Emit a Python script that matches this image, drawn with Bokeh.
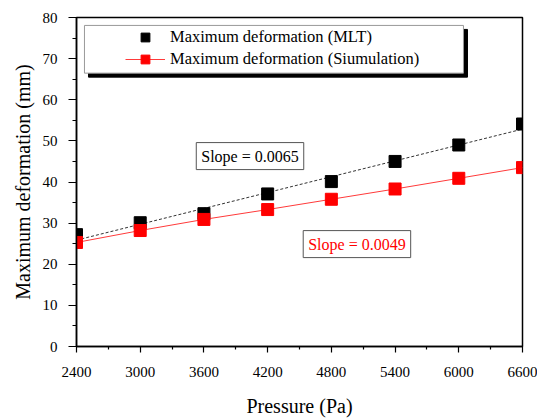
import numpy as np
from bokeh.plotting import figure
from bokeh.models import Range1d, FixedTicker, Legend, LegendItem, Label, BoxAnnotation
from bokeh.embed import file_html
from bokeh.resources import INLINE

# ---- data ----
pressure = [2400, 3000, 3600, 4200, 4800, 5400, 6000, 6600]
mlt = [27.2, 30.1, 32.3, 37.1, 40.1, 45.0, 49.0, 54.1]
sim = [25.3, 28.2, 30.9, 33.3, 35.8, 38.3, 40.9, 43.5]
x_ticks = [2400, 3000, 3600, 4200, 4800, 5400, 6000, 6600]
y_ticks = [0, 10, 20, 30, 40, 50, 60, 70, 80]
mlt_label = "Maximum deformation (MLT)"
sim_label = "Maximum deformation (Siumulation)"
slope_mlt_text = "Slope = 0.0065"
slope_sim_text = "Slope = 0.0049"
x_title = "Pressure (Pa)"
y_title = "Maximum deformation (mm)"

FONT = "Liberation Serif"

p = figure(width=537, height=419,
           x_range=Range1d(x_ticks[0], x_ticks[-1]),
           y_range=Range1d(y_ticks[0], y_ticks[-1]),
           output_backend="svg", toolbar_location=None,
           min_border_left=76, min_border_right=15,
           min_border_top=17, min_border_bottom=71)

p.xgrid.visible = False
p.ygrid.visible = False
p.outline_line_color = "black"
p.outline_line_width = 1.5
p.outline_line_alpha = 1.0
p.background_fill_color = "white"
p.border_fill_color = "white"

# linear fit for MLT series
coef = np.polyfit(pressure, mlt, 1)
fit_x = [pressure[0], pressure[-1]]
fit_y = list(np.polyval(coef, fit_x))

p.line(fit_x, fit_y, line_color="#333333", line_width=1, line_dash="3 2")
r_mlt = p.scatter(pressure, mlt, marker="square", size=12,
                  fill_color="black", line_color="black")
r_sim_line = p.line(pressure, sim, line_color="#ff3a3a", line_width=1)
r_sim = p.scatter(pressure, sim, marker="square", size=12,
                  fill_color="#ff0000", line_color="#ff0000")

# axes
x_minor = [(a + b) / 2 for a, b in zip(x_ticks[:-1], x_ticks[1:])]
y_minor = [(a + b) / 2 for a, b in zip(y_ticks[:-1], y_ticks[1:])]
p.xaxis.ticker = FixedTicker(ticks=x_ticks, minor_ticks=x_minor)
p.yaxis.ticker = FixedTicker(ticks=y_ticks, minor_ticks=y_minor)

for ax in (p.xaxis[0], p.yaxis[0]):
    ax.axis_line_color = "black"
    ax.axis_line_width = 1.5
    ax.major_tick_line_color = "black"
    ax.minor_tick_line_color = "black"
    ax.major_tick_line_width = 1.2
    ax.minor_tick_line_width = 1.2
    ax.major_tick_in = 0
    ax.minor_tick_in = 0
    ax.major_label_text_font = FONT
    ax.major_label_text_font_size = "15px"
    ax.major_label_text_color = "black"
    ax.axis_label_text_font = FONT
    ax.axis_label_text_font_size = "20px"
    ax.axis_label_text_font_style = "normal"
    ax.axis_label_text_color = "black"

p.xaxis.major_tick_out = 6
p.xaxis.minor_tick_out = 3
p.xaxis.major_label_standoff = 14
p.xaxis.axis_label_standoff = 15
p.xaxis.axis_label = x_title

p.yaxis.major_tick_out = 8
p.yaxis.minor_tick_out = 4
p.yaxis.major_label_standoff = 11
p.yaxis.axis_label_standoff = 6
p.yaxis.axis_label = y_title

# legend frame with drop shadow (decorative)
shadow = BoxAnnotation(left=2513, right=6082, top=77.1, bottom=65.5,
                       fill_color="black", fill_alpha=1.0, line_color="black",
                       line_alpha=1.0, level="overlay")
box = BoxAnnotation(left=2475, right=6044, top=78.07, bottom=66.47,
                    fill_color="white", fill_alpha=1.0, line_color="#999999",
                    line_width=1, line_alpha=1.0, level="overlay")
p.add_layout(shadow)
p.add_layout(box)

legend = Legend(items=[LegendItem(label=mlt_label, renderers=[r_mlt]),
                       LegendItem(label=sim_label, renderers=[r_sim_line, r_sim])],
                location=(49, 276), padding=0, spacing=0,
                glyph_width=40, glyph_height=22, label_height=22,
                label_standoff=5,
                label_text_font=FONT, label_text_font_size="16.5px",
                label_text_color="black",
                border_line_alpha=0, background_fill_alpha=0)
p.add_layout(legend, "center")

# slope annotations
def slope_label(x, y, txt, color):
    lab = Label(x=x, y=y, text=txt, text_align="center", text_baseline="middle",
                text_font=FONT, text_font_size="16px", text_color=color,
                background_fill_color="white", background_fill_alpha=1.0,
                border_line_color="#555555", border_line_width=1)
    try:
        lab.padding = 5
    except Exception:
        pass
    return lab

p.add_layout(slope_label(4034, 46.3, slope_mlt_text, "black"))
p.add_layout(slope_label(5041, 24.9, slope_sim_text, "#ff0000"))

open("out.html", "w").write(file_html(p, INLINE))
